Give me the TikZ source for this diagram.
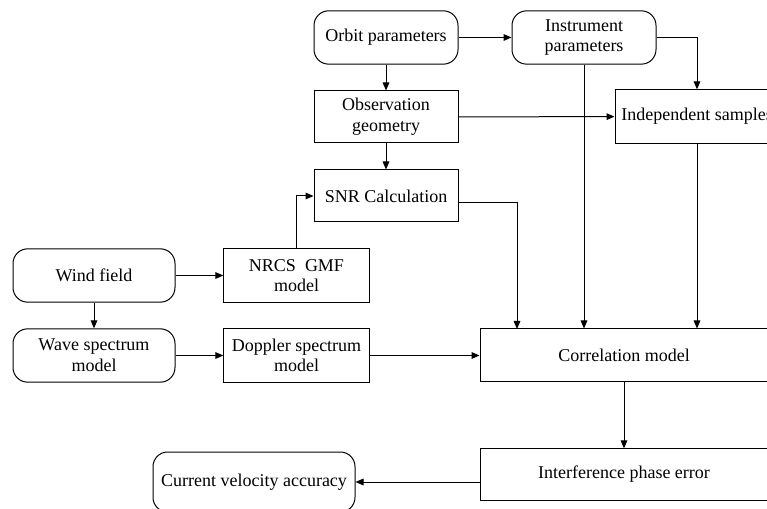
\documentclass[tikz,border=0pt]{standalone}
\usepackage{fontspec}
\setmainfont{Liberation Serif}
\usetikzlibrary{arrows.meta}
\begin{document}
\begin{tikzpicture}[x=0.75pt,y=-0.75pt,line width=0.75pt,
	box/.style={draw,align=center,inner sep=1pt,font=\fontsize{13.5pt}{15.5pt}\selectfont},
	rbox/.style={box,rounded corners=11pt},
	arr/.style={-{Triangle[length=6pt,width=5pt]}}]
	\useasboundingbox (0,0) rectangle (767,509);
	\clip (0,0) rectangle (767,509);
	% top row
	\node[rbox,minimum width=108pt,minimum height=40pt] (orbit) at (386,37.5) {Orbit parameters};
	\node[rbox,minimum width=108pt,minimum height=40pt] (instr) at (584,37.5) {Instrument\\parameters};
	\node[box,minimum width=108pt,minimum height=39pt] (obs) at (386,117) {Observation\\geometry};
	\node[box,minimum width=123pt,minimum height=40pt] (indep) at (697,116.5) {Independent samples};
	\node[box,minimum width=108pt,minimum height=39pt] (snr) at (386,196) {SNR Calculation};
	% left part
	\node[rbox,minimum width=121.5pt,minimum height=40pt] (wind) at (94,275.5) {Wind field};
	\node[box,minimum width=109pt,minimum height=40pt] (nrcs) at (296.5,275.5) {NRCS~ GMF\\model};
	\node[rbox,minimum width=121.5pt,minimum height=40pt] (wave) at (94,355.5) {Wave spectrum\\model};
	\node[box,minimum width=109pt,minimum height=40pt] (doppler) at (296.5,355.5) {Doppler spectrum\\model};
	% bottom right
	\node[box,minimum width=216pt,minimum height=39pt] (corr) at (624,355) {Correlation model};
	\node[box,minimum width=216pt,minimum height=38.5pt] (iphase) at (624,474.5) {Interference phase error};
	\node[rbox,minimum width=151.5pt,minimum height=45pt] (cva) at (254,482) {Current velocity accuracy};
	\coordinate (snrin) at (517,329);
	% connectors
	\draw[arr] (orbit) -- (instr);
	\draw[arr] (orbit) -- (obs);
	\draw[arr] (obs) -- (snr);
	\draw[arr] (obs) -- (indep);
	\draw[arr] (instr.east) -| (indep);
	\draw[arr] (instr) -- (instr |- corr.north);
	\draw[arr] (indep) -- (indep |- corr.north);
	\draw[arr] ([yshift=-5pt]snr.east) -| (snrin);
	\draw[arr] (nrcs.north) |- (snr.west);
	\draw[arr] (wind) -- (nrcs);
	\draw[arr] (wind) -- (wave);
	\draw[arr] (wave) -- (doppler);
	\draw[arr] (doppler) -- (doppler -| corr.west);
	\draw[arr] (corr) -- (iphase);
	\draw[arr] (iphase.west |- cva) -- (cva);
\end{tikzpicture}
\end{document}
